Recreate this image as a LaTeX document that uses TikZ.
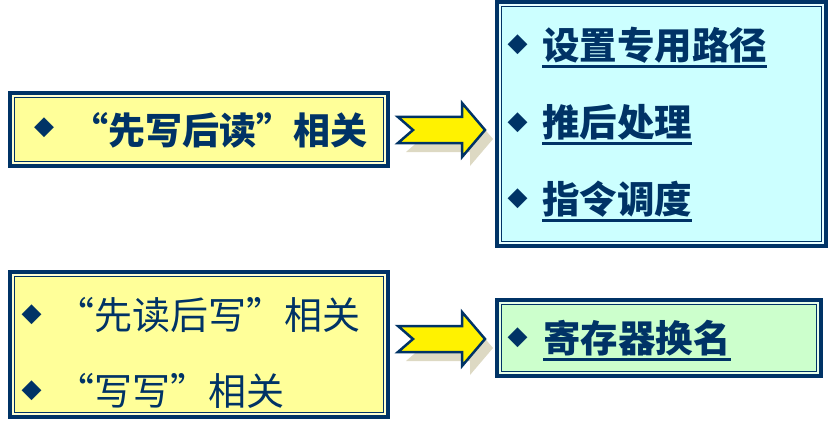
\documentclass[tikz,border=0pt]{standalone}
\usepackage{fontspec}
\setmainfont{Noto Sans CJK SC}
\newfontfamily\symfont{DejaVu Sans}
\usetikzlibrary{positioning}

\definecolor{navy}{HTML}{003366}
\definecolor{paleyellow}{HTML}{FFFF99}
\definecolor{palecyan}{HTML}{CCFFFF}
\definecolor{palegreen}{HTML}{CCFFCC}
\definecolor{shadowtan}{HTML}{DDD9C3}

% underlined text with a rule that scales with the font
\newcommand\ulined[1]{\setbox0=\hbox{#1}\rlap{\raisebox{-0.22em}{\rule{\wd0}{0.07em}}}\box0}

\begin{document}
\begin{tikzpicture}[
  x=1pt, y=-1pt,
  box/.style={draw=navy, line width=4pt, fill=#1, inner sep=0pt,
    path picture={
      \draw[white, opacity=0.55, line width=1.5pt]
        ([shift={(3pt,3pt)}]path picture bounding box.south west) rectangle
        ([shift={(-3pt,-3pt)}]path picture bounding box.north east);
      \draw[navy, line width=1pt]
        ([shift={(4.5pt,4.5pt)}]path picture bounding box.south west) rectangle
        ([shift={(-4.5pt,-4.5pt)}]path picture bounding box.north east);}},
  bul/.style={text=navy, inner sep=0pt, font=\symfont\fontsize{26}{26}\selectfont},
  lbl/.style={anchor=base west, text=navy, inner sep=0pt,
              font=\fontsize{38}{42}\selectfont},
  lblb/.style={lbl, font=\fontsize{37}{42}\selectfont\bfseries},
  rlbl/.style={lbl, font=\fontsize{37.5}{42}\selectfont\bfseries},
  blockarrow/.pic={
    \fill[shadowtan] (-35,-4) -- (-20,9) -- (-35,22) -- (29,22) -- (29,36)
      -- (52,9) -- (29,-18) -- (29,-4) -- cycle;
    \draw[navy, line width=2.5pt, fill=yellow, line join=miter]
      (-43,-13) -- (-28,0) -- (-43,13) -- (21,13) -- (21,27)
      -- (44,0) -- (21,-27) -- (21,-13) -- cycle;
  },
]
\useasboundingbox (0,0) rectangle (829,433);

%% ─── Left column ──────────────────────────────────────────────────────────────
\node[box=paleyellow, minimum width=378pt, minimum height=73pt] (raw) at (199,129.5) {};
\node[bul] (rawb) at (44,128) {◆};
\node[lblb] (rawt) at (71,144) {“先写后读”相关};

\node[box=paleyellow, minimum width=378pt, minimum height=145pt] (war) at (199,344.5) {};
\node[bul] (warb1) at (31.5,314.5) {◆};
\node[lbl]  (wart1) at (56,329.4) {“先读后写”相关};
\node[bul] (warb2) at (31.5,390.5) {◆};
\node[lbl]  (wart2) at (56,405.4) {“写写”相关};

%% ─── Right column ─────────────────────────────────────────────────────────────
\node[box=palecyan, minimum width=329pt, minimum height=244pt] (fix) at (661.5,124) {};
\node[bul] (fixb1) at (517.5,45) {◆};
\node[rlbl] (fixt1) at (542,59.5) {\ulined{设置专用路径}};
\node[bul] (fixb2) at (517.5,122.5) {◆};
\node[rlbl] (fixt2) at (542,136.5) {\ulined{推后处理}};
\node[bul] (fixb3) at (517.5,198.5) {◆};
\node[rlbl] (fixt3) at (542,213.5) {\ulined{指令调度}};

\node[box=palegreen, minimum width=324pt, minimum height=76pt] (ren) at (659,338) {};
\node[bul] (renb) at (517.5,337.5) {◆};
\node[rlbl] (rent) at (543,352.5) {\ulined{寄存器换名}};

%% ─── Block arrows between the columns ─────────────────────────────────────────
\coordinate (a1) at (441,130);
\coordinate (a2) at (441,339);
\pic at (a1) {blockarrow};
\pic at (a2) {blockarrow};

\end{tikzpicture}
\end{document}
